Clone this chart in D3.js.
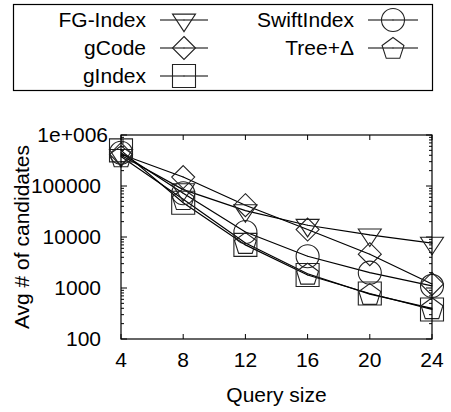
<!DOCTYPE html>
<html>
<head>
<meta charset="utf-8">
<script src="https://cdn.jsdelivr.net/npm/d3@7"></script>
<style>
  body { margin: 0; background: #fff; }
  text { font-family: "Liberation Sans", Arial, sans-serif; fill: #000; }
</style>
</head>
<body>
<div id="chart"></div>
<script>
// Data
const querySizes = [4, 8, 12, 16, 20, 24];
const fgIndex    = [400000, 85000, 33000, 17000, 11000, 7600];
const gCode      = [420000, 150000, 42000, 14000, 4600, 1200];
const gIndex     = [500000, 47000, 7000, 1800, 780, 380];
const swiftIndex = [450000, 72000, 12500, 4200, 2000, 1100];
const treeDelta  = [380000, 55000, 7600, 1900, 760, 400];
const seriesNames = ["FG-Index", "gCode", "gIndex", "SwiftIndex", "Tree+\u0394"];
const seriesShapes = ["triDown", "diamond", "square", "circle", "pentagon"];
const yTicks = [100, 1000, 10000, 100000, 1000000];
const yTickLabels = ["100", "1000", "10000", "100000", "1e+006"];

const svgWidth = 451, svgHeight = 412;
const margin = { top: 135, right: 19, bottom: 73, left: 121 };
const width = svgWidth - margin.left - margin.right;
const height = svgHeight - margin.top - margin.bottom;

const svg = d3.select("#chart").append("svg")
  .attr("width", svgWidth)
  .attr("height", svgHeight);

const x = d3.scaleLinear().domain([4, 24]).range([0, width]);
const y = d3.scaleLog().domain([100, 1000000]).range([height, 0]);

const plot = svg.append("g")
  .attr("transform", `translate(${margin.left}, ${margin.top})`);

// marker drawing, gnuplot style point types
const S = 11.5;
function shapePath(type) {
  switch (type) {
    case "square":
      return `M${-S},${-S}H${S}V${S}H${-S}Z`;
    case "diamond":
      return `M0,${-S}L${S},0L0,${S}L${-S},0Z`;
    case "triDown": {
      const h = 17.5;
      return `M${-S},${-h / 3}H${S}L0,${2 * h / 3}Z`;
    }
    case "pentagon": {
      const r = 11.5;
      const pts = d3.range(5).map(i => {
        const a = -Math.PI / 2 + i * 2 * Math.PI / 5;
        return [r * Math.cos(a), r * Math.sin(a) + 1];
      });
      return "M" + pts.map(p => p.join(",")).join("L") + "Z";
    }
    case "circle":
      return `M${-S},0A${S},${S} 0 1,0 ${S},0A${S},${S} 0 1,0 ${-S},0Z`;
  }
}

function drawMarker(g, type, cx, cy) {
  g.append("path")
    .attr("d", shapePath(type))
    .attr("transform", `translate(${cx},${cy})`)
    .attr("fill", "none")
    .attr("stroke", "#222")
    .attr("stroke-width", 1.1);
  g.append("rect")
    .attr("x", cx - 0.5).attr("y", cy - 0.5)
    .attr("width", 1).attr("height", 1)
    .attr("fill", "#222");
}

// ticks (inside, mirrored)
const minorTicks = [];
for (let e = 2; e < 6; e++) {
  for (let m = 2; m <= 9; m++) minorTicks.push(m * Math.pow(10, e));
}
const ticksG = plot.append("g").attr("stroke", "#000").attr("stroke-width", 1);
yTicks.forEach(v => {
  ticksG.append("line").attr("x1", 0).attr("x2", 6).attr("y1", y(v)).attr("y2", y(v));
  ticksG.append("line").attr("x1", width).attr("x2", width - 6).attr("y1", y(v)).attr("y2", y(v));
});
minorTicks.forEach(v => {
  ticksG.append("line").attr("x1", 0).attr("x2", 3).attr("y1", y(v)).attr("y2", y(v));
  ticksG.append("line").attr("x1", width).attr("x2", width - 3).attr("y1", y(v)).attr("y2", y(v));
});
querySizes.forEach(v => {
  ticksG.append("line").attr("x1", x(v)).attr("x2", x(v)).attr("y1", height).attr("y2", height - 5);
  ticksG.append("line").attr("x1", x(v)).attr("x2", x(v)).attr("y1", 0).attr("y2", 5);
});

// tick labels
plot.selectAll(".ylab")
  .data(yTicks)
  .enter().append("text")
  .attr("x", (d, i) => i === 4 ? -13 : -20)
  .attr("y", d => y(d) + 7)
  .attr("text-anchor", "end")
  .attr("font-size", 21)
  .text((d, i) => yTickLabels[i]);

plot.selectAll(".xlab")
  .data(querySizes)
  .enter().append("text")
  .attr("x", d => x(d))
  .attr("y", height + 28)
  .attr("text-anchor", "middle")
  .attr("font-size", 21)
  .text(d => d);

// axis titles
svg.append("text")
  .attr("x", margin.left + width / 2)
  .attr("y", 402)
  .attr("text-anchor", "middle")
  .attr("font-size", 21)
  .text("Query size");

svg.append("text")
  .attr("transform", `translate(29, ${margin.top + height / 2}) rotate(-90)`)
  .attr("text-anchor", "middle")
  .attr("font-size", 21)
  .text("Avg # of candidates");

// series lines and markers
const allSeries = [fgIndex, gCode, gIndex, swiftIndex, treeDelta];
const line = d3.line()
  .x((d, i) => x(querySizes[i]))
  .y(d => y(d));

const seriesG = plot.append("g");
allSeries.forEach((vals, k) => {
  seriesG.append("path")
    .datum(vals)
    .attr("d", line)
    .attr("fill", "none")
    .attr("stroke", "#000")
    .attr("stroke-width", 1.2);
});
allSeries.forEach((vals, k) => {
  vals.forEach((v, i) => drawMarker(seriesG, seriesShapes[k], x(querySizes[i]), y(v)));
});

// plot border
plot.append("rect")
  .attr("width", width).attr("height", height)
  .attr("fill", "none").attr("stroke", "#000").attr("stroke-width", 1.2);

// legend
const legend = svg.append("g");
legend.append("rect")
  .attr("x", 13.5).attr("y", 4.5).attr("width", 419).attr("height", 86)
  .attr("fill", "none").attr("stroke", "#000").attr("stroke-width", 1.2);

const legendPos = [
  { tx: 146, lx1: 160, lx2: 208, row: 0 },
  { tx: 146, lx1: 160, lx2: 208, row: 1 },
  { tx: 146, lx1: 160, lx2: 208, row: 2 },
  { tx: 354, lx1: 368, lx2: 418, row: 0 },
  { tx: 354, lx1: 368, lx2: 418, row: 1 }
];
seriesNames.forEach((name, k) => {
  const p = legendPos[k];
  const cy = 20 + p.row * 28;
  legend.append("text")
    .attr("x", p.tx).attr("y", cy + 7)
    .attr("text-anchor", "end")
    .attr("font-size", 21)
    .text(name);
  legend.append("line")
    .attr("x1", p.lx1).attr("x2", p.lx2).attr("y1", cy).attr("y2", cy)
    .attr("stroke", "#000").attr("stroke-width", 1.2);
  drawMarker(legend, seriesShapes[k], (p.lx1 + p.lx2) / 2, cy);
});
</script>
</body>
</html>
